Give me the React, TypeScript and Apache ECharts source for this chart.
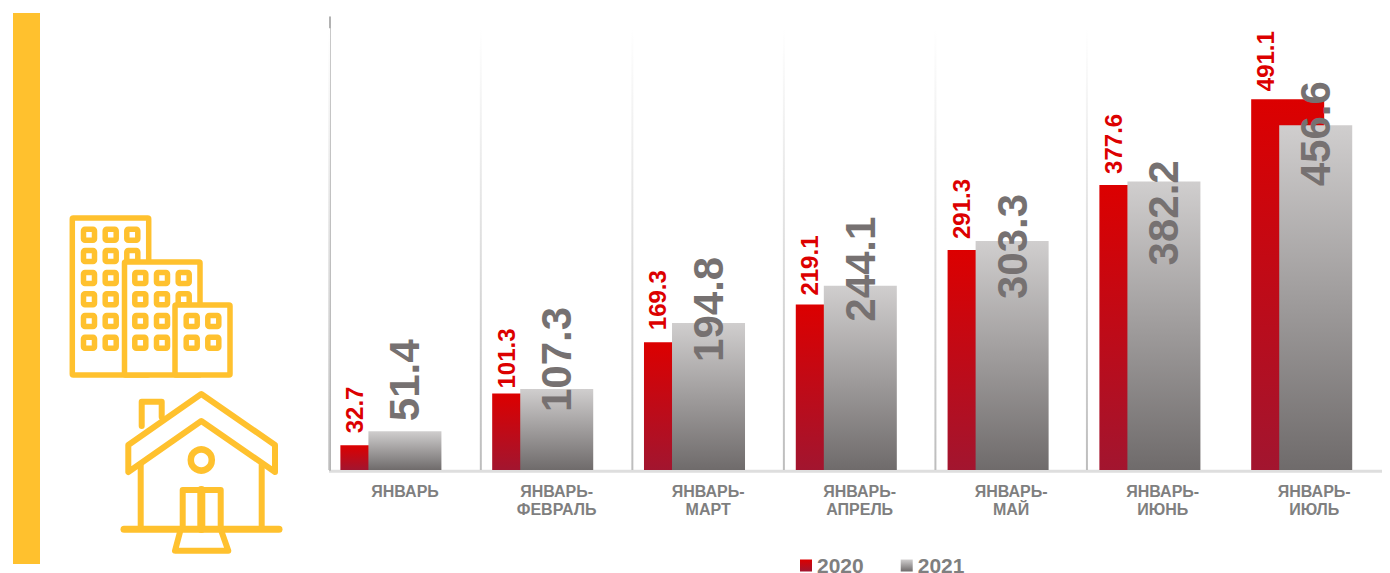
import React, { useEffect, useRef } from "react";
import * as echarts from "echarts";

const categories = [
  "ЯНВАРЬ",
  "ЯНВАРЬ-\nФЕВРАЛЬ",
  "ЯНВАРЬ-\nМАРТ",
  "ЯНВАРЬ-\nАПРЕЛЬ",
  "ЯНВАРЬ-\nМАЙ",
  "ЯНВАРЬ-\nИЮНЬ",
  "ЯНВАРЬ-\nИЮЛЬ",
];
const values2020 = [32.7, 101.3, 169.3, 219.1, 291.3, 377.6, 491.1];
const values2021 = [51.4, 107.3, 194.8, 244.1, 303.3, 382.2, 456.6];
const labelShift2020 = [-12, -5, -12, -9, -11, -11, -8];
const labelShift2021 = [-10, 23, 39, 36, 58, 84, 61];
const separators = [1, 2, 3, 4, 5, 6];

const FONT = "'Liberation Sans', Arial, sans-serif";
const YELLOW = "#FFC12E";
const RED_FILL = new echarts.graphic.LinearGradient(0, 0, 0, 1, [
  { offset: 0, color: "#DC0000" },
  { offset: 1, color: "#A2152F" },
]);
const GRAY_FILL = new echarts.graphic.LinearGradient(0, 0, 0, 1, [
  { offset: 0, color: "#D0CECE" },
  { offset: 1, color: "#6F6B6B" },
]);

const outline = { stroke: YELLOW, lineWidth: 5.5, lineJoin: "round", lineCap: "round" };

function windows(xs: number[], ys: number[]) {
  const out: any[] = [];
  ys.forEach((y) =>
    xs.forEach((x) =>
      out.push({
        type: "rect",
        shape: { x: x - 5.5, y: y - 5.5, width: 11, height: 11, r: 1.5 },
        style: { fill: "#fff", ...outline },
      })
    )
  );
  return out;
}

function building(x0: number, y0: number, x1: number, y1: number) {
  return {
    type: "rect",
    shape: { x: x0, y: y0, width: x1 - x0, height: y1 - y0, r: 1 },
    style: { fill: "#fff", ...outline },
  };
}

const line = (pts: number[][], lw = 5.5, closed = false) => ({
  type: closed ? "polygon" : "polyline",
  shape: { points: pts },
  style: { ...outline, lineWidth: lw, fill: closed ? "#fff" : "none" },
});

const rowsY = [234.7, 256, 278, 299.3, 321, 342.7];
const decoration: any[] = [
  { type: "rect", shape: { x: 13, y: 13, width: 27, height: 551 }, style: { fill: YELLOW } },
  building(72.3, 218, 148.7, 375),
  ...windows([89, 110.7, 132.3], rowsY.slice(0, 2)),
  ...windows([89, 110.7], rowsY.slice(2)),
  building(124.5, 262, 200, 375),
  ...windows([140.3, 162, 183.7], rowsY.slice(2, 4)),
  ...windows([140.3, 162], rowsY.slice(4)),
  building(175, 305, 230, 375),
  ...windows([191.7, 213.3], rowsY.slice(4)),
  line([[141.7, 426], [141.7, 401.7], [161.7, 401.7], [161.7, 417]], 6),
  line([[140.7, 465], [140.7, 529]], 6),
  line([[261.7, 465], [261.7, 529]], 6),
  line([[201.3, 394], [275, 445], [275, 472], [201.3, 421], [128.3, 472], [128.3, 445]], 6, true),
  { type: "circle", shape: { cx: 201.3, cy: 460, r: 10.5 }, style: { fill: "none", stroke: YELLOW, lineWidth: 6.5 } },
  line([[182.7, 529], [182.7, 490], [220.7, 490], [220.7, 529]], 6),
  line([[201.3, 490], [201.3, 529]], 8),
  line([[124, 529.3], [279, 529.3]], 7),
  line([[180, 532], [175, 550.7], [228.3, 550.7], [221.7, 532]], 6),
  { type: "line", shape: { x1: 329, y1: 471.2, x2: 1382, y2: 471.2 }, style: { stroke: "#DEDEDE", lineWidth: 3 } },
];

export default function App() {
  const ref = useRef<HTMLDivElement>(null);
  useEffect(() => {
    document.body.style.margin = "0";
    document.body.style.overflow = "hidden";
    const chart = echarts.init(ref.current!, undefined, { renderer: "svg" });
    const labelBase = { show: true, position: "top", rotate: 90, align: "left", verticalAlign: "middle", distance: 0, fontFamily: FONT, fontWeight: "bold" };
    chart.setOption({
      animation: false,
      backgroundColor: "#fff",
      graphic: decoration,
      grid: [
        { left: 315, top: 17, width: 1062.6, height: 453 },
        { left: 329.3, top: 17, width: 1062.6, height: 453 },
      ],
      legend: {
        data: ["2020", "2021"],
        left: 800,
        top: 555,
        padding: 0,
        icon: "rect",
        itemWidth: 12,
        itemHeight: 12,
        itemGap: 37,
        textStyle: { fontFamily: FONT, fontWeight: "bold", fontSize: 21, lineHeight: 16, color: "#7F7F7F" },
      },
      xAxis: [
        { type: "category", gridIndex: 0, data: categories, show: false },
        {
          type: "category",
          gridIndex: 1,
          data: categories,
          axisLine: { show: false },
          axisTick: { show: false },
          axisLabel: { interval: 0, margin: 12, fontFamily: FONT, fontWeight: "bold", fontSize: 16, lineHeight: 18, color: "#7F7F7F" },
        },
      ],
      yAxis: [
        { type: "value", gridIndex: 0, min: 0, max: 600, show: false },
        {
          type: "value",
          gridIndex: 1,
          min: 0,
          max: 600,
          splitLine: { show: false },
          axisTick: { show: false },
          axisLabel: { show: false },
          axisLine: { show: true, lineStyle: { color: "#999999", width: 1.5 } },
        },
      ],
      series: [
        {
          type: "custom",
          name: "separators",
          xAxisIndex: 1,
          yAxisIndex: 1,
          data: separators,
          silent: true,
          z: 1,
          encode: { x: 0 },
          renderItem: (_p: any, api: any) => {
            const i = api.value(0);
            const band = api.size([1, 0])[0];
            const base = api.coord([i, 0]);
            const top = api.coord([i, 585]);
            return {
              type: "rect",
              shape: { x: base[0] - band / 2 - 1, y: top[1], width: 2, height: base[1] - top[1] },
              style: {
                fill: new echarts.graphic.LinearGradient(0, 0, 0, 1, [
                  { offset: 0, color: "#FFFFFF" },
                  { offset: 1, color: "#BDBDBD" },
                ]),
              },
            };
          },
        },
        {
          type: "bar",
          name: "2020",
          xAxisIndex: 0,
          yAxisIndex: 0,
          barWidth: 73,
          barGap: "-61.6%",
          z: 3,
          itemStyle: { color: RED_FILL },
          data: values2020.map((value, i) => ({
            value,
            label: { ...labelBase, fontSize: 24, color: "#DC0000", offset: [-labelShift2020[i], -22.5] },
          })),
        },
        {
          type: "bar",
          name: "2021",
          xAxisIndex: 0,
          yAxisIndex: 0,
          barWidth: 73,
          z: 4,
          itemStyle: { color: GRAY_FILL },
          data: values2021.map((value, i) => ({
            value,
            label: { ...labelBase, fontSize: 42, color: "#767171", offset: [-labelShift2021[i], 0] },
          })),
        },
      ],
    });
    return () => chart.dispose();
  }, []);
  return <div ref={ref} style={{ position: "absolute", left: 0, top: 0, width: 1390, height: 573 }} />;
}
